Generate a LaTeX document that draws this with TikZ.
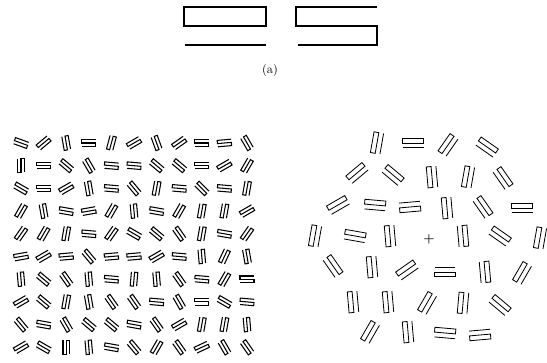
\documentclass[tikz,border=0pt]{standalone}
\usepackage{tikz}

\tikzset{
  ess/.pic={\draw (1,-0.46) -- (-1,-0.46) -- (-1,0) -- (1,0) -- (1,0.46) -- (-0.95,0.46);},
  rl/.pic={\draw (-1,-0.46) rectangle (1,0); \draw (-0.98,0.46) -- (1,0.46);}
}

\begin{document}
\begin{tikzpicture}[x=0.03cm, y=-0.03cm, line join=miter]
    \useasboundingbox (0,0) rectangle (547,363);
    % (a): the two elements
    \begin{scope}[line width=1.6pt]
      \pic[scale=41] at (225,26) {rl};
      \pic[scale=40.5] at (336.5,26) {ess};
    \end{scope}
    \node[font=\fontsize{10.5}{12}\selectfont] (lbl) at (270,70) {(a)};
    % left texture: 10 rows of 11
    \foreach \angs [count=\r] in {
        {-20,40,100,0,75,30,110,35,0,5,120},
        {90,0,-40,-60,-5,-5,-40,-40,0,30,60},
        {-30,0,30,100,-5,-50,80,-5,-45,-5,80},
        {60,100,-10,10,60,95,-10,60,80,80,30},
        {55,60,80,-5,55,-30,-40,-55,80,-10,55},
        {10,30,5,-50,5,5,30,-5,95,65,100},
        {95,-40,-55,95,-5,85,95,-55,-5,60,180},
        {30,-40,80,100,-55,-55,-5,-60,0,-30,-5},
        {-50,-10,-60,-40,-40,-10,-55,30,80,80,95},
        {30,-30,90,95,-10,-50,60,-55,25,-60,-55}}{
      \foreach \t [count=\c] in \angs {
        \pic[rotate=\t, scale=7, line width=0.9pt] at ({21+(\c-1)*22.6},{143+(\r-1)*22.7}) {ess};
      }
    }
    % right texture around the fixation cross
    \node[font=\fontsize{11}{12}\selectfont\bfseries] (fix) at (429,239) {+};
    \foreach \x/\y/\t in {
        377/143/80, 413/143/0, 448/145/55, 487/147/-35,
        357/173/40, 393/175/-40, 432/177/95, 468/177/80, 503/178/-55,
        338/205/30, 375/205/-5, 410/207/185, 447/208/95, 483/207/-55, 522/208/0,
        315/236/80, 355/236/-10, 390/236/95, 463/236/275, 500/236/-35, 540/238/80,
        333/266/-55, 372/267/95, 407/270/35, 445/272/180, 485/272/275, 522/273/60,
        353/302/95, 388/302/95, 427/303/60, 463/303/85, 500/305/-40,
        370/332/60, 408/332/95, 445/333/-5, 480/335/185}{
      \pic[rotate=\t, scale=10.5, line width=0.7pt] at (\x,\y) {rl};
    }
\end{tikzpicture}
\end{document}
